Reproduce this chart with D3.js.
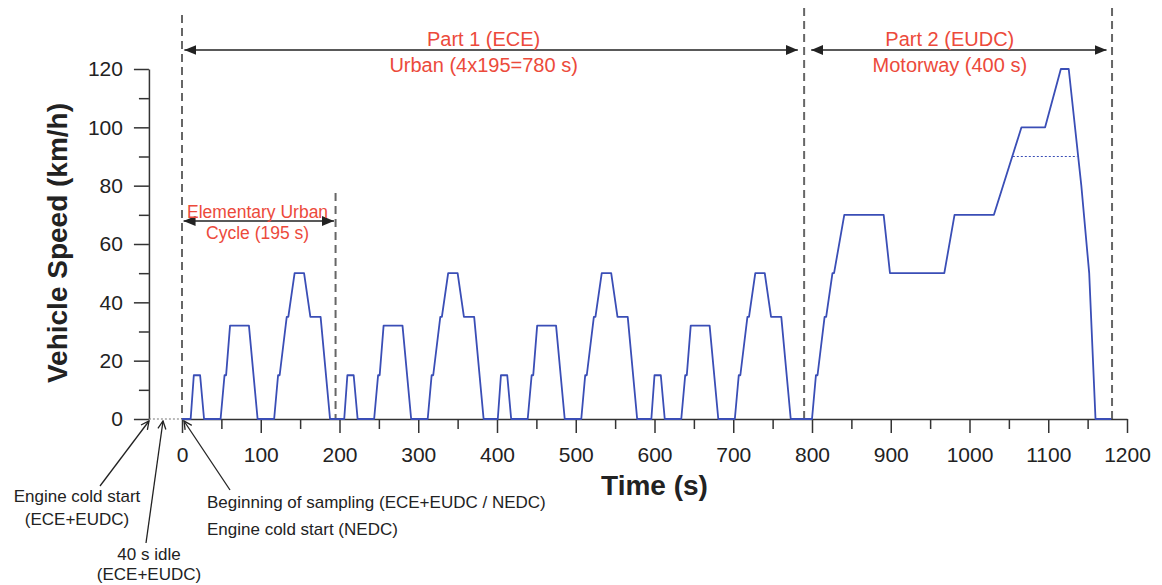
<!DOCTYPE html>
<html>
<head>
<meta charset="utf-8">
<script src="https://cdn.jsdelivr.net/npm/d3@7"></script>
<style>
body { margin: 0; background: #fff; }
svg { display: block; font-family: "Liberation Sans", Arial, sans-serif; }
</style>
</head>
<body>
<svg width="1162" height="585"></svg>
<script>
// NEDC speed trace: 4 ECE urban cycles + EUDC (s, km/h)
var time = [
	0, 11, 15, 23, 28, 49, 54, 56, 61, 85, 96, 117, 122, 124, 133, 135, 143, 155, 163, 176, 188,
	195, 206, 210, 218, 223, 244, 249, 251, 256, 280, 291, 312, 317, 319, 328, 330, 338, 350, 358, 371, 383,
	390, 401, 405, 413, 418, 439, 444, 446, 451, 475, 486, 507, 512, 514, 523, 525, 533, 545, 553, 566, 578,
	585, 596, 600, 608, 613, 634, 639, 641, 646, 670, 681, 702, 707, 709, 718, 720, 728, 740, 748, 761, 773,
	780, 800, 805, 807, 816, 818, 826, 828, 841, 891, 899, 968, 981, 1031, 1066, 1096, 1116, 1126, 1142, 1152, 1160, 1180
];
var speed = [
	0, 0, 15, 15, 0, 0, 15, 15, 32, 32, 0, 0, 15, 15, 35, 35, 50, 50, 35, 35, 0,
	0, 0, 15, 15, 0, 0, 15, 15, 32, 32, 0, 0, 15, 15, 35, 35, 50, 50, 35, 35, 0,
	0, 0, 15, 15, 0, 0, 15, 15, 32, 32, 0, 0, 15, 15, 35, 35, 50, 50, 35, 35, 0,
	0, 0, 15, 15, 0, 0, 15, 15, 32, 32, 0, 0, 15, 15, 35, 35, 50, 50, 35, 35, 0,
	0, 0, 15, 15, 35, 35, 50, 50, 70, 70, 50, 50, 70, 70, 100, 100, 120, 120, 80, 50, 0, 0
];

// 90 km/h variant (dotted)
var lowPowerTime = [1055, 1137];
var lowPowerSpeed = [90, 90];

// 40 s idle before sampling (dotted, at 0 km/h)
var idleTime = [-42, 0];

// dashed boundaries
var markerTime = [0, 195, 790, 1181];

// ticks
var xTicks = [0, 50, 100, 150, 200, 250, 300, 350, 400, 450, 500, 550, 600, 650, 700, 750, 800, 850, 900, 950, 1000, 1050, 1100, 1150, 1200];
var xTickLabels = [0, 100, 200, 300, 400, 500, 600, 700, 800, 900, 1000, 1100, 1200];
var yTicks = [0, 10, 20, 30, 40, 50, 60, 70, 80, 90, 100, 110, 120];
var yTickLabels = [0, 20, 40, 60, 80, 100, 120];

// The svg
var svg = d3.select("svg"),
    width = +svg.attr("width"),
    height = +svg.attr("height");

var x = d3.scaleLinear().domain([0, 1200]).range([182, 1127]);
var y = d3.scaleLinear().domain([0, 120]).range([419, 69]);

var blue = "#3a4eb6",
    red = "#ec4a3b",
    ink = "#222";

// arrow heads
var defs = svg.append("defs");
defs.append("marker")
	.attr("id", "head")
	.attr("viewBox", "0 0 12 10")
	.attr("refX", 12)
	.attr("refY", 5)
	.attr("markerWidth", 12)
	.attr("markerHeight", 10)
	.attr("markerUnits", "userSpaceOnUse")
	.attr("orient", "auto-start-reverse")
	.append("path")
		.attr("d", "M0,0L12,5L0,10z")
		.attr("fill", ink);

defs.append("marker")
	.attr("id", "open")
	.attr("viewBox", "0 0 10 10")
	.attr("refX", 9)
	.attr("refY", 5)
	.attr("markerWidth", 10)
	.attr("markerHeight", 10)
	.attr("markerUnits", "userSpaceOnUse")
	.attr("orient", "auto")
	.append("path")
		.attr("d", "M1,1L9,5L1,9")
		.attr("fill", "none")
		.attr("stroke", ink)
		.attr("stroke-width", 1.3);

// dashed boundary lines
var markerTop = [15, 193, 8, 8];
svg.selectAll(".boundary")
	.data(markerTime)
	.enter()
	.append("line")
		.attr("class", "boundary")
		.attr("x1", d => x(d))
		.attr("x2", d => x(d))
		.attr("y1", (d, i) => markerTop[i])
		.attr("y2", y(0))
		.attr("stroke", "#666")
		.attr("stroke-width", 2)
		.attr("stroke-dasharray", "8,5");

// axes
var xAxis = d3.axisBottom(x)
	.tickValues(xTicks)
	.tickSize(14)
	.tickPadding(14)
	.tickSizeOuter(0)
	.tickFormat(d => xTickLabels.indexOf(d) >= 0 ? d : "");

var gx = svg.append("g")
	.attr("transform", "translate(0," + y(0) + ")")
	.call(xAxis);
gx.selectAll(".tick line").filter(d => xTickLabels.indexOf(d) < 0).attr("y2", 10);

var yAxis = d3.axisLeft(y)
	.tickValues(yTicks)
	.tickSize(15)
	.tickPadding(11)
	.tickSizeOuter(0)
	.tickFormat(d => yTickLabels.indexOf(d) >= 0 ? d : "");

var gy = svg.append("g")
	.attr("transform", "translate(" + x(idleTime[0]) + ",0)")
	.call(yAxis);
gy.selectAll(".tick line").filter(d => yTickLabels.indexOf(d) < 0).attr("x2", -10);

[gx, gy].forEach(g => {
	g.select(".domain").attr("stroke", "#333").attr("stroke-width", 1.5);
	g.selectAll(".tick line").attr("stroke", "#333").attr("stroke-width", 1.5);
	g.selectAll(".tick text")
		.attr("fill", ink)
		.style("font-size", "21px")
		.style("font-family", "'Liberation Sans', Arial, sans-serif");
});

// axis titles
svg.append("text")
	.attr("transform", "translate(67," + (y(60) - 1) + ") rotate(-90)")
	.attr("text-anchor", "middle")
	.attr("fill", ink)
	.style("font-size", "28px")
	.style("font-weight", "bold")
	.text("Vehicle Speed (km/h)");

svg.append("text")
	.attr("x", x(600))
	.attr("y", 495)
	.attr("text-anchor", "middle")
	.attr("fill", ink)
	.style("font-size", "28px")
	.style("font-weight", "bold")
	.text("Time (s)");

// idle before sampling
svg.append("line")
	.attr("x1", x(idleTime[0]))
	.attr("x2", x(idleTime[1]))
	.attr("y1", y(0))
	.attr("y2", y(0))
	.attr("stroke", "#777")
	.attr("stroke-width", 1.2)
	.attr("stroke-dasharray", "2,2");

// the speed trace
var trace = time.map((t, i) => ({ t: t, v: speed[i] }));
var line = d3.line().x(d => x(d.t)).y(d => y(d.v));

svg.append("path")
	.datum(trace)
	.attr("d", line)
	.attr("fill", "none")
	.attr("stroke", blue)
	.attr("stroke-width", 1.8)
	.attr("stroke-linejoin", "round");

svg.append("path")
	.datum(lowPowerTime.map((t, i) => ({ t: t, v: lowPowerSpeed[i] })))
	.attr("d", line)
	.attr("fill", "none")
	.attr("stroke", blue)
	.attr("stroke-width", 1.2)
	.attr("stroke-dasharray", "2,2");

// double arrows with red labels
var spans = [
	{ from: 3, to: 782, y: 50, cx: 383, lines: ["Part 1 (ECE)", "Urban (4x195=780 s)"], dy: [46, 72], size: 20 },
	{ from: 799, to: 1174, y: 50, cx: 975, lines: ["Part 2 (EUDC)", "Motorway (400 s)"], dy: [46, 72], size: 20 },
	{ from: 2, to: 193, y: 221, cx: 96, lines: ["Elementary Urban", "Cycle (195 s)"], dy: [218, 239], size: 17.5 }
];

spans.forEach(s => {
	svg.append("line")
		.attr("x1", x(s.from))
		.attr("x2", x(s.to))
		.attr("y1", s.y)
		.attr("y2", s.y)
		.attr("stroke", ink)
		.attr("stroke-width", 1.6)
		.attr("marker-start", "url(#head)")
		.attr("marker-end", "url(#head)");
	s.lines.forEach((txt, i) => {
		svg.append("text")
			.attr("x", x(s.cx))
			.attr("y", s.dy[i])
			.attr("text-anchor", "middle")
			.attr("fill", red)
			.style("font-size", s.size + "px")
			.text(txt);
	});
});

// bottom notes with pointer arrows
var notes = [
	{ lines: ["Engine cold start", "(ECE+EUDC)"], x: 77, base: [502, 525], anchor: "middle", arrow: [100, 486, 149, 421] },
	{ lines: ["40 s idle", "(ECE+EUDC)"], x: 149, base: [560, 580], anchor: "middle", arrow: [146, 543, 163, 421] },
	{ lines: ["Beginning of sampling (ECE+EUDC / NEDC)", "Engine cold start (NEDC)"], x: 207, base: [508, 535], anchor: "start", arrow: [230, 490, 184, 421] }
];

notes.forEach(n => {
	n.lines.forEach((txt, i) => {
		svg.append("text")
			.attr("x", n.x)
			.attr("y", n.base[i])
			.attr("text-anchor", n.anchor)
			.attr("fill", ink)
			.style("font-size", "17px")
			.text(txt);
	});
	svg.append("line")
		.attr("x1", n.arrow[0])
		.attr("y1", n.arrow[1])
		.attr("x2", n.arrow[2])
		.attr("y2", n.arrow[3])
		.attr("stroke", ink)
		.attr("stroke-width", 1.3)
		.attr("marker-end", "url(#open)");
});
</script>
</body>
</html>
